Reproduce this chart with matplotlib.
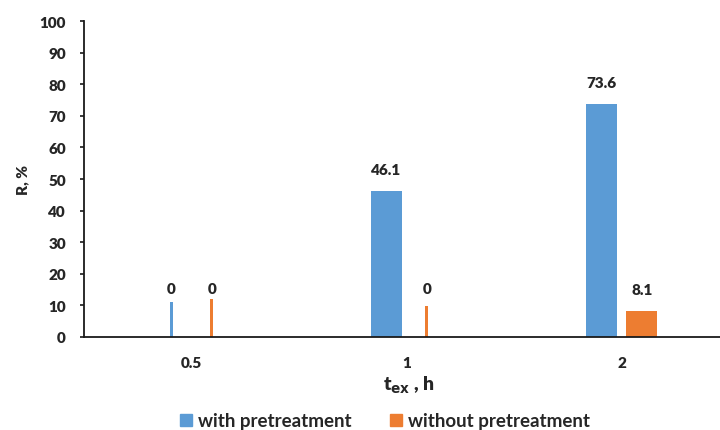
import matplotlib
matplotlib.use("Agg")
import matplotlib.pyplot as plt
from matplotlib.patches import Patch

plt.rcParams['font.family'] = ['Lato', 'DejaVu Sans']

# categories (extraction time, h)
categories = ["0.5", "1", "2"]
# R, % values (labels)
with_pre = [0, 46.1, 73.6]
without_pre = [0, 0, 8.1]
# heights of the thin stubs drawn for the zero values in the original
with_stub = [11.1, 0, 0]
without_stub = [12.0, 9.9, 0]

blue = "#5B9BD5"
orange = "#ED7D31"
txt = "#262626"

fig = plt.figure(figsize=(7.2, 4.31), dpi=100)
ax = fig.add_axes([84 / 720, (431 - 338) / 431, 645 / 720, 316 / 431])

x = list(range(len(categories)))
off = 0.095
w = 0.144
thin = 0.014

for i in x:
    for vals, stub, sign, col in [(with_pre, with_stub, -1, blue),
                                  (without_pre, without_stub, 1, orange)]:
        v = vals[i]
        xp = i + sign * off
        if v == 0:
            ax.bar(xp, stub[i], width=thin, color=col)
            ax.text(xp, 15.5, "0", ha="center", va="center",
                    fontsize=11, fontweight="heavy", color=txt)
        else:
            ax.bar(xp, v, width=w, color=col)
            ax.text(xp, v + 7, f"{v}", ha="center", va="center",
                    fontsize=11, fontweight="heavy", color=txt)

ax.set_xlim(-0.5, 2.5)
ax.set_ylim(0, 100)
ax.set_yticks(range(0, 101, 10))
ax.set_xticks(x)
ax.set_xticklabels(categories)
for s in ["top", "right"]:
    ax.spines[s].set_visible(False)
for s in ["left", "bottom"]:
    ax.spines[s].set_linewidth(1.3)
    ax.spines[s].set_color("#1a1a1a")
ax.tick_params(axis="y", length=3, width=1.2, pad=10, labelsize=11, colors="#1a1a1a")
ax.tick_params(axis="x", length=0, pad=14, labelsize=11, colors="#1a1a1a")
for lab in ax.get_xticklabels() + ax.get_yticklabels():
    lab.set_fontweight("heavy")
    lab.set_color(txt)

ax.set_ylabel("R, %", fontsize=11, fontweight="heavy", color=txt)
ax.yaxis.set_label_coords(-0.085, 0.5)
fig.text(409 / 720, 1 - 385 / 431, r"t$_{\mathbf{ex}}$ , h", ha="center", va="center",
         fontsize=14, fontweight="heavy", color=txt)

handles = [Patch(color=blue, label="with pretreatment"),
           Patch(color=orange, label="without pretreatment")]
fig.legend(handles=handles, loc="center", bbox_to_anchor=(385 / 720, 1 - 422 / 431),
           ncol=2, frameon=False, handlelength=0.65, handleheight=0.65,
           handletextpad=0.35, columnspacing=2.0, prop={"weight": "bold", "size": 13.5},
           labelcolor=txt)

fig.savefig("out.png", dpi=100)
